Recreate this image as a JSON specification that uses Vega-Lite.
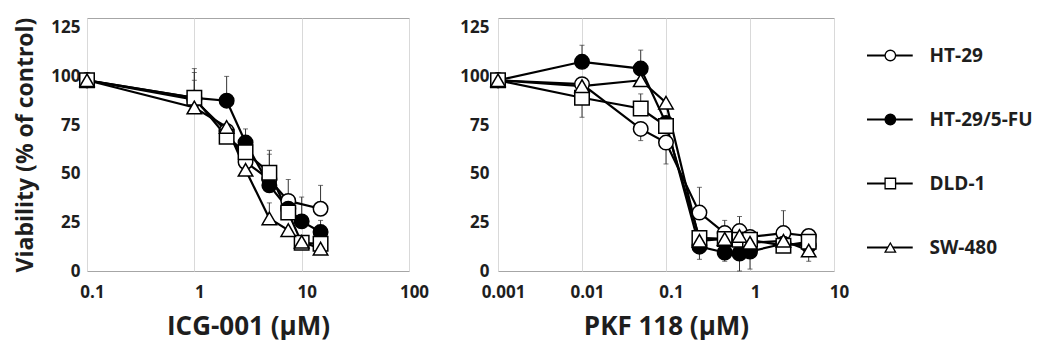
{
  "$schema": "https://vega.github.io/schema/vega-lite/v6.json",
  "background": "white",
  "padding": {"left": 14, "top": 16, "right": 0, "bottom": 0},
  "bounds": "flush",
  "spacing": 89,
  "config": {
    "font": "Open Sans",
    "view": {"stroke": "#a6a6a6", "strokeWidth": 1},
    "axis": {
      "labelFont": "Open Sans", "labelFontWeight": "bold", "labelFontSize": 17, "labelColor": "#1e1e1e",
      "titleFont": "Open Sans", "titleFontWeight": "bold", "titleColor": "#1e1e1e",
      "ticks": false, "tickSize": 0, "domain": false, "grid": false, "labelFlush": false
    }
  },
  "datasets": {
    "icg": [
      {"series": "HT-29", "conc": 0.1, "v": 98}, {"series": "HT-29", "conc": 1, "v": 88}, {"series": "HT-29", "conc": 2, "v": 72}, {"series": "HT-29", "conc": 3, "v": 56}, {"series": "HT-29", "conc": 5, "v": 47}, {"series": "HT-29", "conc": 7.5, "v": 36}, {"series": "HT-29", "conc": 15, "v": 32},
      {"series": "HT-29/5-FU", "conc": 0.1, "v": 98}, {"series": "HT-29/5-FU", "conc": 1, "v": 89}, {"series": "HT-29/5-FU", "conc": 2, "v": 87.5}, {"series": "HT-29/5-FU", "conc": 3, "v": 66}, {"series": "HT-29/5-FU", "conc": 5, "v": 44}, {"series": "HT-29/5-FU", "conc": 7.5, "v": 32}, {"series": "HT-29/5-FU", "conc": 10, "v": 25.5}, {"series": "HT-29/5-FU", "conc": 15, "v": 20},
      {"series": "DLD-1", "conc": 0.1, "v": 98}, {"series": "DLD-1", "conc": 1, "v": 89}, {"series": "DLD-1", "conc": 2, "v": 69}, {"series": "DLD-1", "conc": 3, "v": 61}, {"series": "DLD-1", "conc": 5, "v": 50.5}, {"series": "DLD-1", "conc": 7.5, "v": 30}, {"series": "DLD-1", "conc": 10, "v": 14.5}, {"series": "DLD-1", "conc": 15, "v": 14},
      {"series": "SW-480", "conc": 0.1, "v": 98}, {"series": "SW-480", "conc": 1, "v": 84}, {"series": "SW-480", "conc": 2, "v": 74}, {"series": "SW-480", "conc": 3, "v": 52}, {"series": "SW-480", "conc": 5, "v": 27}, {"series": "SW-480", "conc": 7.5, "v": 21}, {"series": "SW-480", "conc": 10, "v": 15}, {"series": "SW-480", "conc": 15, "v": 11.5}
    ],
    "icg_err": [
      {"series": "HT-29", "conc": 1, "lo": 88, "hi": 104}, {"series": "HT-29", "conc": 5, "lo": 47, "hi": 60}, {"series": "HT-29", "conc": 7.5, "lo": 36, "hi": 47}, {"series": "HT-29", "conc": 15, "lo": 32, "hi": 44},
      {"series": "HT-29/5-FU", "conc": 2, "lo": 87.5, "hi": 100}, {"series": "HT-29/5-FU", "conc": 3, "lo": 66, "hi": 73}, {"series": "HT-29/5-FU", "conc": 10, "lo": 25.5, "hi": 38}, {"series": "HT-29/5-FU", "conc": 15, "lo": 20, "hi": 26},
      {"series": "DLD-1", "conc": 1, "lo": 89, "hi": 102}, {"series": "DLD-1", "conc": 5, "lo": 50.5, "hi": 62},
      {"series": "SW-480", "conc": 1, "lo": 84, "hi": 98}, {"series": "SW-480", "conc": 5, "lo": 27, "hi": 35}
    ],
    "pkf": [
      {"series": "HT-29", "conc": 0.001, "v": 98}, {"series": "HT-29", "conc": 0.01, "v": 96}, {"series": "HT-29", "conc": 0.05, "v": 73}, {"series": "HT-29", "conc": 0.1, "v": 66}, {"series": "HT-29", "conc": 0.25, "v": 30}, {"series": "HT-29", "conc": 0.5, "v": 19.5}, {"series": "HT-29", "conc": 0.75, "v": 20.5}, {"series": "HT-29", "conc": 1, "v": 17.5}, {"series": "HT-29", "conc": 2.5, "v": 19.5}, {"series": "HT-29", "conc": 5, "v": 18},
      {"series": "HT-29/5-FU", "conc": 0.001, "v": 98}, {"series": "HT-29/5-FU", "conc": 0.01, "v": 107.5}, {"series": "HT-29/5-FU", "conc": 0.05, "v": 104}, {"series": "HT-29/5-FU", "conc": 0.1, "v": 76}, {"series": "HT-29/5-FU", "conc": 0.25, "v": 12.5}, {"series": "HT-29/5-FU", "conc": 0.5, "v": 9.5}, {"series": "HT-29/5-FU", "conc": 0.75, "v": 9}, {"series": "HT-29/5-FU", "conc": 1, "v": 10}, {"series": "HT-29/5-FU", "conc": 2.5, "v": 14}, {"series": "HT-29/5-FU", "conc": 5, "v": 13},
      {"series": "DLD-1", "conc": 0.001, "v": 98}, {"series": "DLD-1", "conc": 0.01, "v": 89}, {"series": "DLD-1", "conc": 0.05, "v": 83.5}, {"series": "DLD-1", "conc": 0.1, "v": 74.5}, {"series": "DLD-1", "conc": 0.25, "v": 17}, {"series": "DLD-1", "conc": 0.5, "v": 16.5}, {"series": "DLD-1", "conc": 0.75, "v": 16}, {"series": "DLD-1", "conc": 1, "v": 16}, {"series": "DLD-1", "conc": 2.5, "v": 13}, {"series": "DLD-1", "conc": 5, "v": 15},
      {"series": "SW-480", "conc": 0.001, "v": 98}, {"series": "SW-480", "conc": 0.01, "v": 95}, {"series": "SW-480", "conc": 0.05, "v": 98}, {"series": "SW-480", "conc": 0.1, "v": 86.5}, {"series": "SW-480", "conc": 0.25, "v": 15.5}, {"series": "SW-480", "conc": 0.5, "v": 16.5}, {"series": "SW-480", "conc": 0.75, "v": 18}, {"series": "SW-480", "conc": 1, "v": 14.5}, {"series": "SW-480", "conc": 2.5, "v": 15.5}, {"series": "SW-480", "conc": 5, "v": 10.5}
    ],
    "pkf_err": [
      {"series": "HT-29", "conc": 0.05, "lo": 67, "hi": 73}, {"series": "HT-29", "conc": 0.1, "lo": 55, "hi": 66}, {"series": "HT-29", "conc": 0.25, "lo": 30, "hi": 43}, {"series": "HT-29", "conc": 0.5, "lo": 19.5, "hi": 26}, {"series": "HT-29", "conc": 0.75, "lo": 20.5, "hi": 28}, {"series": "HT-29", "conc": 2.5, "lo": 19.5, "hi": 31},
      {"series": "HT-29/5-FU", "conc": 0.01, "lo": 107.5, "hi": 116}, {"series": "HT-29/5-FU", "conc": 0.05, "lo": 104, "hi": 113.5}, {"series": "HT-29/5-FU", "conc": 0.25, "lo": 6, "hi": 12.5}, {"series": "HT-29/5-FU", "conc": 0.5, "lo": 5, "hi": 9.5}, {"series": "HT-29/5-FU", "conc": 0.75, "lo": 0, "hi": 9}, {"series": "HT-29/5-FU", "conc": 1, "lo": 1, "hi": 10},
      {"series": "DLD-1", "conc": 0.01, "lo": 79, "hi": 89}, {"series": "DLD-1", "conc": 0.05, "lo": 83.5, "hi": 91}, {"series": "DLD-1", "conc": 2.5, "lo": 11, "hi": 13},
      {"series": "SW-480", "conc": 5, "lo": 5, "hi": 10.5}
    ],
    "leg": [
      {"series": "HT-29", "rank": 1}, {"series": "HT-29/5-FU", "rank": 2}, {"series": "DLD-1", "rank": 3}, {"series": "SW-480", "rank": 4}
    ]
  },
  "hconcat": [
    {
      "width": 322, "height": 253,
      "layer": [
        {"mark": {"type": "rule", "strokeDash": [7, 5], "strokeWidth": 1.5, "color": "#111"}, "encoding": {"y": {"datum": 50}}},
        {"data": {"name": "icg_err"}, "mark": {"type": "errorbar", "color": "#333", "ticks": {"size": 5}, "rule": {"strokeWidth": 1}},
         "encoding": {"x": {"field": "conc", "type": "quantitative", "title": "ICG-001 (µM)"}, "y": {"field": "lo", "type": "quantitative", "title": "Viability (% of control)"}, "y2": {"field": "hi"}}},
        {"data": {"name": "icg"}, "mark": {"type": "line", "color": "black", "strokeWidth": 2.2},
         "encoding": {"x": {"field": "conc", "type": "quantitative", "title": "ICG-001 (µM)"}, "y": {"field": "v", "type": "quantitative", "title": "Viability (% of control)"}, "detail": {"field": "series"}}},
        {"data": {"name": "icg"}, "mark": {"type": "point", "filled": true, "stroke": "black", "strokeWidth": 1.5, "size": 210, "opacity": 1},
         "encoding": {
           "x": {"field": "conc", "type": "quantitative", "title": "ICG-001 (µM)", "scale": {"type": "log", "domain": [0.1, 100]},
                 "axis": {"values": [0.1, 1, 10, 100], "format": "~g", "grid": true, "gridColor": "#d9d9d9", "labelOffset": 5, "labelPadding": 13, "titleFontSize": 26, "titlePadding": 13}},
           "y": {"field": "v", "type": "quantitative", "title": "Viability (% of control)", "scale": {"domain": [0, 125]},
                 "axis": {"values": [0, 25, 50, 75, 100, 125], "labelPadding": 7, "titleFontSize": 23, "titlePadding": 13}},
           "shape": {"field": "series", "type": "nominal", "scale": {"domain": ["HT-29", "HT-29/5-FU", "DLD-1", "SW-480"], "range": ["circle", "circle", "square", "triangle-up"]}, "legend": null},
           "fill": {"field": "series", "type": "nominal", "scale": {"domain": ["HT-29", "HT-29/5-FU", "DLD-1", "SW-480"], "range": ["white", "black", "white", "white"]}, "legend": null}
         }}
      ]
    },
    {
      "width": 336, "height": 253,
      "layer": [
        {"mark": {"type": "rule", "strokeDash": [7, 5], "strokeWidth": 1.5, "color": "#111"}, "encoding": {"y": {"datum": 50}}},
        {"data": {"name": "pkf_err"}, "mark": {"type": "errorbar", "color": "#333", "ticks": {"size": 5}, "rule": {"strokeWidth": 1}},
         "encoding": {"x": {"field": "conc", "type": "quantitative", "title": "PKF 118 (µM)"}, "y": {"field": "lo", "type": "quantitative", "title": null}, "y2": {"field": "hi"}}},
        {"data": {"name": "pkf"}, "mark": {"type": "line", "color": "black", "strokeWidth": 2.2},
         "encoding": {"x": {"field": "conc", "type": "quantitative", "title": "PKF 118 (µM)"}, "y": {"field": "v", "type": "quantitative", "title": null}, "detail": {"field": "series"}}},
        {"data": {"name": "pkf"}, "mark": {"type": "point", "filled": true, "stroke": "black", "strokeWidth": 1.5, "size": 210, "opacity": 1},
         "encoding": {
           "x": {"field": "conc", "type": "quantitative", "title": "PKF 118 (µM)", "scale": {"type": "log", "domain": [0.001, 10]},
                 "axis": {"values": [0.001, 0.01, 0.1, 1, 10], "format": "~g", "grid": true, "gridColor": "#d9d9d9", "labelOffset": 5, "labelPadding": 13, "titleFontSize": 26, "titlePadding": 13}},
           "y": {"field": "v", "type": "quantitative", "title": null, "scale": {"domain": [0, 125]},
                 "axis": {"values": [0, 25, 50, 75, 100, 125], "labelPadding": 9, "title": null}},
           "shape": {"field": "series", "type": "nominal", "scale": {"domain": ["HT-29", "HT-29/5-FU", "DLD-1", "SW-480"], "range": ["circle", "circle", "square", "triangle-up"]}, "legend": null},
           "fill": {"field": "series", "type": "nominal", "scale": {"domain": ["HT-29", "HT-29/5-FU", "DLD-1", "SW-480"], "range": ["white", "black", "white", "white"]}, "legend": null}
         }}
      ]
    },
    {
      "width": 112, "height": 253,
      "view": {"stroke": null},
      "data": {"name": "leg"},
      "encoding": {
        "y": {"field": "rank", "type": "quantitative", "scale": {"domain": [0.414, 4.367], "reverse": true}, "axis": null}
      },
      "layer": [
        {"mark": {"type": "rule", "color": "black", "strokeWidth": 2.2},
         "encoding": {"x": {"datum": 0, "type": "quantitative", "scale": {"domain": [67, 179]}, "axis": null}, "x2": {"datum": 49}}},
        {"mark": {"type": "point", "filled": true, "stroke": "black", "strokeWidth": 1.3, "size": 110, "opacity": 1},
         "encoding": {
           "x": {"datum": 25, "type": "quantitative"},
           "shape": {"field": "series", "type": "nominal", "scale": {"domain": ["HT-29", "HT-29/5-FU", "DLD-1", "SW-480"], "range": ["circle", "circle", "square", "triangle-up"]}, "legend": null},
           "fill": {"field": "series", "type": "nominal", "scale": {"domain": ["HT-29", "HT-29/5-FU", "DLD-1", "SW-480"], "range": ["white", "black", "white", "white"]}, "legend": null}
         }},
        {"mark": {"type": "text", "align": "left", "baseline": "middle", "font": "Open Sans", "fontWeight": "bold", "fontSize": 19, "color": "#1e1e1e"},
         "encoding": {"x": {"datum": 67, "type": "quantitative"}, "text": {"field": "series"}}}
      ]
    }
  ]
}
